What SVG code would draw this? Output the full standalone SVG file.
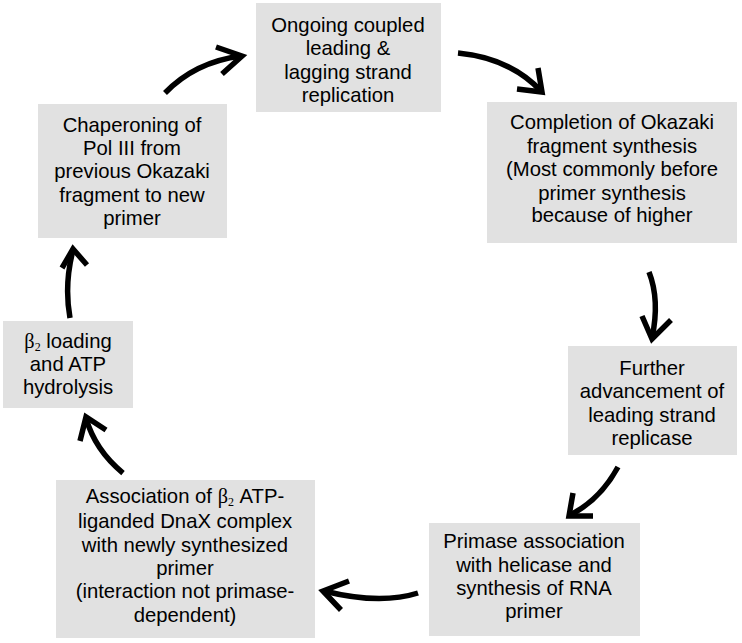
<svg xmlns="http://www.w3.org/2000/svg" width="742" height="643" viewBox="0 0 742 643">
<style>
.box{fill:#e1e1e1;stroke:none}
.t{font-family:"Liberation Sans",Arial,sans-serif;font-size:20.3px;fill:#000;text-anchor:middle}
.sub{font-size:12px;font-family:"Liberation Serif",serif}
.beta{font-family:"Liberation Serif",serif}
.arr{fill:none;stroke:#000;stroke-width:5.5;stroke-linecap:butt;stroke-linejoin:miter}
</style>
<rect width="742" height="643" fill="#fff"/>
<g id="n1">
<rect class="box" x="256" y="3" width="185" height="109"/>
<text class="t" x="348" y="32">Ongoing coupled</text>
<text class="t" x="348" y="55">leading &amp;</text>
<text class="t" x="348" y="79">lagging strand</text>
<text class="t" x="348" y="102">replication</text>
</g>
<g id="n2">
<rect class="box" x="487" y="102" width="250" height="141"/>
<text class="t" x="612" y="129">Completion of Okazaki</text>
<text class="t" x="612" y="153">fragment synthesis</text>
<text class="t" x="612" y="176">(Most commonly before</text>
<text class="t" x="612" y="200">primer synthesis</text>
<text class="t" x="612" y="222">because of higher</text>
</g>
<g id="n3">
<rect class="box" x="568" y="346" width="169" height="109"/>
<text class="t" x="652" y="375">Further</text>
<text class="t" x="652" y="398">advancement of</text>
<text class="t" x="652" y="422">leading strand</text>
<text class="t" x="652" y="445">replicase</text>
</g>
<g id="n4">
<rect class="box" x="429" y="523" width="211" height="113"/>
<text class="t" x="534" y="548">Primase association</text>
<text class="t" x="534" y="572">with helicase and</text>
<text class="t" x="534" y="595">synthesis of RNA</text>
<text class="t" x="534" y="618">primer</text>
</g>
<g id="n5">
<rect class="box" x="56" y="480" width="259" height="158"/>
<text class="t" x="185" y="503">Association of <tspan class="beta">β</tspan><tspan class="sub" dy="3">2</tspan><tspan dy="-3"> ATP-</tspan></text>
<text class="t" x="185" y="528">liganded DnaX complex</text>
<text class="t" x="185" y="552">with newly synthesized</text>
<text class="t" x="185" y="575">primer</text>
<text class="t" x="185" y="598">(interaction not primase-</text>
<text class="t" x="185" y="622">dependent)</text>
</g>
<g id="n6">
<rect class="box" x="3" y="321" width="130" height="87"/>
<text class="t" x="68" y="348"><tspan class="beta">β</tspan><tspan class="sub" dy="3">2</tspan><tspan dy="-3"> loading</tspan></text>
<text class="t" x="68" y="371">and ATP</text>
<text class="t" x="68" y="394">hydrolysis</text>
</g>
<g id="n7">
<rect class="box" x="38" y="104" width="189" height="134"/>
<text class="t" x="132" y="132">Chaperoning of</text>
<text class="t" x="132" y="155">Pol III from</text>
<text class="t" x="132" y="178">previous Okazaki</text>
<text class="t" x="132" y="202">fragment to new</text>
<text class="t" x="132" y="225">primer</text>
</g>
<g id="connectors">
<path class="arr" d="M165,93 Q195,62 241,56"/>
<path class="arr" d="M216,47 L242,56 L222,74"/>
<path class="arr" d="M458,53 Q510,58 541,91"/>
<path class="arr" d="M538,68 L542,92 L517,89"/>
<path class="arr" d="M649,272 Q660,300 652,338"/>
<path class="arr" d="M642,316 L652,339 L671,320"/>
<path class="arr" d="M618,467 Q600,500 570,515"/>
<path class="arr" d="M573,493 L569,516 L593,516"/>
<path class="arr" d="M418,593 Q380,605 324,591"/>
<path class="arr" d="M349,581 L323,591 L341,610"/>
<path class="arr" d="M123,473 Q95,450 86,418"/>
<path class="arr" d="M80,441 L86,417 L106,430"/>
<path class="arr" d="M70,318 Q64,285 73,250"/>
<path class="arr" d="M62,268 L73,249 L87,265"/>
</g>
</svg>
